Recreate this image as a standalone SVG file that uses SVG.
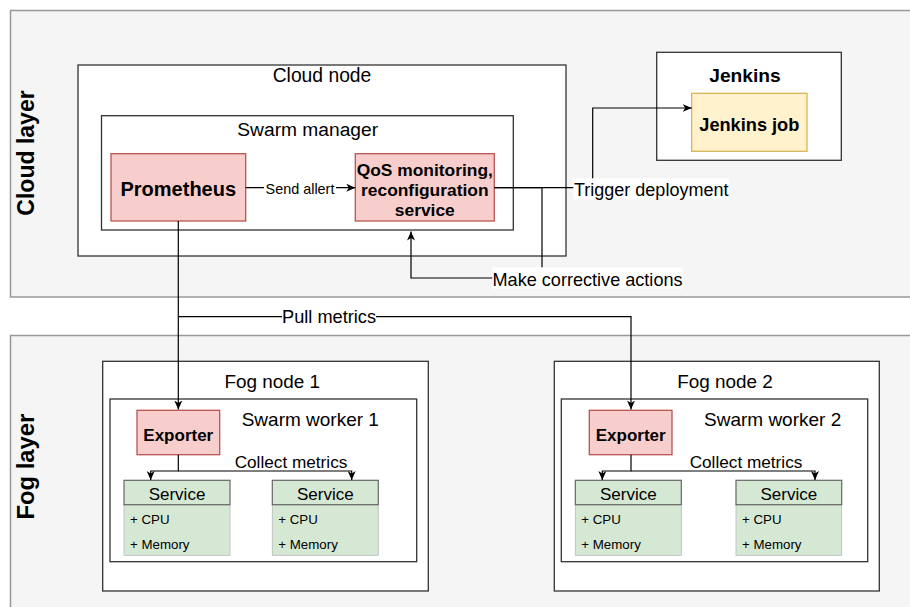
<svg xmlns="http://www.w3.org/2000/svg" width="910" height="607" viewBox="0 0 910 607">
<defs>
<marker id="arr" viewBox="0 0 10 8" refX="9" refY="4" markerWidth="10" markerHeight="8" markerUnits="userSpaceOnUse" orient="auto">
<path d="M0,0 L9,4 L0,8 L2.5,4 Z" fill="#000"/>
</marker>
<style>
text{font-family:"Liberation Sans",Arial,Helvetica,sans-serif;fill:#000}
.layer{fill:#f5f5f5;stroke:#999;stroke-width:1.5}
.box{fill:#fff;stroke:#333;stroke-width:1.3}
.red{fill:#f8cecc;stroke:#b85450;stroke-width:1.3}
.yel{fill:#fff2cc;stroke:#d6b656;stroke-width:1.3}
.svh{fill:#d5e8d4;stroke:#666;stroke-width:1.2}
.svb{fill:#d5e8d4;stroke:#bbb;stroke-width:0.8}
.edge{fill:none;stroke:#000;stroke-width:1.2}
.lbl{fill:#fff}
.m{text-anchor:middle}
.b{font-weight:bold}
</style>
</defs>

<g id="cloud-layer">
<rect class="layer" x="10.5" y="10.5" width="910" height="286.5"/>
<text class="b m" font-size="23" transform="translate(33.5,153) rotate(-90)">Cloud layer</text>
</g>
<g id="fog-layer">
<rect class="layer" x="10.5" y="335.5" width="910" height="280"/>
<text class="b m" font-size="23.8" transform="translate(33.5,466.7) rotate(-90)">Fog layer</text>
</g>

<g id="cloud-node">
<rect class="box" x="78" y="65" width="488" height="191"/>
<text class="m" font-size="19.3" x="322" y="81.6">Cloud node</text>
</g>
<g id="swarm-manager">
<rect class="box" x="101.5" y="115.7" width="411.8" height="114.3"/>
<text class="m" font-size="19.2" x="307.7" y="135.8">Swarm manager</text>
</g>
<g id="prometheus">
<rect class="red" x="111" y="153.7" width="134.7" height="67.3"/>
<text class="b m" font-size="20" x="178.3" y="195.5">Prometheus</text>
</g>
<g id="qos">
<rect class="red" x="355.3" y="153.7" width="139" height="67.3"/>
<text class="b m" font-size="17.4" x="424.8" y="175.6">QoS monitoring,</text>
<text class="b m" font-size="17.4" x="424.8" y="195.6">reconfiguration</text>
<text class="b m" font-size="17.4" x="424.8" y="215.6">service</text>
</g>
<g id="jenkins">
<rect class="box" x="656.7" y="52.3" width="184.6" height="108"/>
<text class="b m" font-size="19.2" x="745" y="81.6">Jenkins</text>
</g>
<g id="jenkins-job">
<rect class="yel" x="691.7" y="93.3" width="115.3" height="58"/>
<text class="b m" font-size="18.2" x="749.3" y="130.6">Jenkins job</text>
</g>

<g id="fog-node-1">
<rect class="box" x="102.7" y="361.3" width="325.6" height="229.7"/>
<text class="m" font-size="18.9" x="272.2" y="387.5">Fog node 1</text>
</g>
<g id="swarm-worker-1">
<rect class="box" x="110" y="399" width="306.7" height="162.7"/>
<text font-size="19" x="241.7" y="425.5">Swarm worker 1</text>
</g>
<g id="exporter-1">
<rect class="red" x="137" y="410.3" width="82.7" height="44.4"/>
<text class="b m" font-size="17" x="178.3" y="440.8">Exporter</text>
</g>
<g id="service-1a">
<rect class="svb" x="124" y="504.7" width="106" height="50.6"/>
<rect class="svh" x="124" y="480.3" width="106" height="24.4"/>
<text class="m" font-size="17" x="177" y="500">Service</text>
<text font-size="13.3" x="130" y="524">+ CPU</text>
<text font-size="13.3" x="130" y="549">+ Memory</text>
</g>
<g id="service-1b">
<rect class="svb" x="272.3" y="504.7" width="106" height="50.6"/>
<rect class="svh" x="272.3" y="480.3" width="106" height="24.4"/>
<text class="m" font-size="17" x="325.3" y="500">Service</text>
<text font-size="13.3" x="278.3" y="524">+ CPU</text>
<text font-size="13.3" x="278.3" y="549">+ Memory</text>
</g>

<g id="fog-node-2">
<rect class="box" x="554.3" y="361.3" width="325" height="229.7"/>
<text class="m" font-size="18.9" x="725" y="387.5">Fog node 2</text>
</g>
<g id="swarm-worker-2">
<rect class="box" x="561.3" y="399" width="306.4" height="162.7"/>
<text font-size="19" x="704" y="425.5">Swarm worker 2</text>
</g>
<g id="exporter-2">
<rect class="red" x="589.3" y="410.3" width="82.7" height="44.4"/>
<text class="b m" font-size="17" x="630.7" y="440.8">Exporter</text>
</g>
<g id="service-2a">
<rect class="svb" x="575.3" y="504.7" width="106" height="50.6"/>
<rect class="svh" x="575.3" y="480.3" width="106" height="24.4"/>
<text class="m" font-size="17" x="628.3" y="500">Service</text>
<text font-size="13.3" x="581.3" y="524">+ CPU</text>
<text font-size="13.3" x="581.3" y="549">+ Memory</text>
</g>
<g id="service-2b">
<rect class="svb" x="736" y="504.7" width="105.7" height="50.6"/>
<rect class="svh" x="736" y="480.3" width="105.7" height="24.4"/>
<text class="m" font-size="17" x="788.8" y="500">Service</text>
<text font-size="13.3" x="742" y="524">+ CPU</text>
<text font-size="13.3" x="742" y="549">+ Memory</text>
</g>

<g id="connectors">
<path class="edge" d="M245.7,187.7 H355.3" marker-end="url(#arr)"/>
<rect class="lbl" x="264" y="180" width="72" height="17"/>
<text class="m" font-size="14.4" x="300" y="194">Send allert</text>

<path class="edge" d="M494.3,187.7 H592.7 V108 H691.7" marker-end="url(#arr)"/>
<rect class="lbl" x="573.3" y="178.3" width="156" height="21"/>
<text font-size="18" x="574" y="196.3">Trigger deployment</text>

<path class="edge" d="M494.3,187.7 H542 V278 H411 V231.5" marker-end="url(#arr)"/>
<rect class="lbl" x="492.3" y="267.3" width="190.7" height="21.3"/>
<text font-size="18.1" x="492.5" y="285.8">Make corrective actions</text>

<path class="edge" d="M178.3,221 V409.5" marker-end="url(#arr)"/>
<path class="edge" d="M178.3,316.7 H631 V409.5" marker-end="url(#arr)"/>
<rect class="lbl" x="282" y="307" width="94" height="20"/>
<text class="m" font-size="18.2" x="329" y="323.2">Pull metrics</text>

<path class="edge" d="M178.3,454.7 V471 H150.7 V480" marker-end="url(#arr)"/>
<path class="edge" d="M178.3,471 H351.7 V480" marker-end="url(#arr)"/>
<text class="m" font-size="17.2" x="291" y="468">Collect metrics</text>

<path class="edge" d="M631,454.7 V471 H602.3 V480" marker-end="url(#arr)"/>
<path class="edge" d="M631,471 H815 V480" marker-end="url(#arr)"/>
<text class="m" font-size="17.2" x="746" y="468">Collect metrics</text>
</g>
</svg>
